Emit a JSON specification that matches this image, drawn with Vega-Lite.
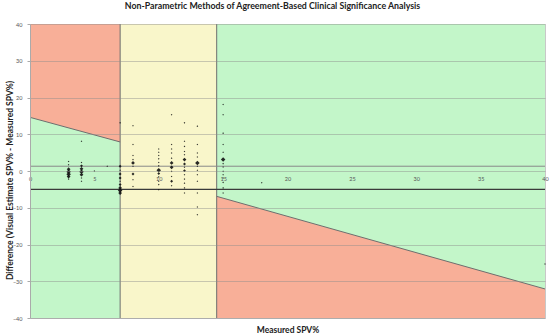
{
  "$schema": "https://vega.github.io/schema/vega-lite/v6.json",
  "width": 515,
  "height": 294,
  "autosize": "none",
  "padding": {"left": 30, "top": 24, "right": 5, "bottom": 18},
  "background": "white",
  "config": {"view": {"stroke": "#c8c8c8"}, "font": "Lato"},
  "title": {"text": "Non-Parametric Methods of Agreement-Based Clinical Significance Analysis", "fontSize": 8.8, "fontWeight": "bold", "font": "Lato", "color": "#222", "anchor": "middle", "offset": 11, "dx": -15},
  "datasets": {
    "rects": [
      {"x": 0, "x2": 40, "y": -40, "y2": 40, "zone": "green"},
      {"x": 7, "x2": 14.5, "y": -40, "y2": 40, "zone": "yellow"}
    ],
    "areas": [
      {"seg": "a", "x": 0, "y": 14.6, "y2": 40},
      {"seg": "a", "x": 7, "y": 7.9, "y2": 40},
      {"seg": "b", "x": 14.5, "y": -40, "y2": -6.9},
      {"seg": "b", "x": 40, "y": -40, "y2": -32.1}
    ],
    "borders": [
      {"x": 7, "y": -40, "y2": 40},
      {"x": 14.5, "y": -40, "y2": 40}
    ],
    "diag": [
      {"seg": "a", "x": 0, "y": 14.6},
      {"seg": "a", "x": 7, "y": 7.9},
      {"seg": "b", "x": 14.5, "y": -6.9},
      {"seg": "b", "x": 40, "y": -32.1}
    ],
    "hlines": [
      {"y": 1.3, "kind": "median"},
      {"y": -5, "kind": "limit"}
    ],
    "points": [
      {"x": 3, "y": 2.6, "n": 1}, {"x": 3, "y": 1.7, "n": 1}, {"x": 3, "y": 0.5, "n": 3}, {"x": 3, "y": -0.2, "n": 4}, {"x": 3, "y": -0.9, "n": 4}, {"x": 3, "y": -1.5, "n": 3}, {"x": 3, "y": -2.2, "n": 1},
      {"x": 4, "y": 8.1, "n": 1}, {"x": 4, "y": 2.3, "n": 1}, {"x": 4, "y": 1.4, "n": 2}, {"x": 4, "y": 0.6, "n": 3}, {"x": 4, "y": -0.2, "n": 4}, {"x": 4, "y": -1.0, "n": 3}, {"x": 4, "y": -1.9, "n": 1}, {"x": 4, "y": -2.8, "n": 1},
      {"x": 5, "y": 0, "n": 1}, {"x": 6, "y": 1.3, "n": 1},
      {"x": 7, "y": 13.1, "n": 1}, {"x": 7, "y": 1.3, "n": 2}, {"x": 7, "y": 0.2, "n": 1}, {"x": 7, "y": -0.8, "n": 2}, {"x": 7, "y": -1.9, "n": 2}, {"x": 7, "y": -2.8, "n": 1}, {"x": 7, "y": -3.7, "n": 2}, {"x": 7, "y": -4.6, "n": 3}, {"x": 7, "y": -5.3, "n": 4}, {"x": 7, "y": -6.0, "n": 3},
      {"x": 8, "y": 12.3, "n": 1}, {"x": 8, "y": 7.2, "n": 1}, {"x": 8, "y": 4.2, "n": 1}, {"x": 8, "y": 3.1, "n": 1}, {"x": 8, "y": 2.2, "n": 3}, {"x": 8, "y": 1.3, "n": 1}, {"x": 8, "y": -0.8, "n": 2}, {"x": 8, "y": -2.4, "n": 1}, {"x": 8, "y": -4.2, "n": 1},
      {"x": 10, "y": 6.0, "n": 1}, {"x": 10, "y": 5.1, "n": 1}, {"x": 10, "y": 4.2, "n": 1}, {"x": 10, "y": 3.3, "n": 1}, {"x": 10, "y": 2.3, "n": 1}, {"x": 10, "y": 1.4, "n": 1}, {"x": 10, "y": 0.2, "n": 4}, {"x": 10, "y": -0.7, "n": 2}, {"x": 10, "y": -1.6, "n": 1}, {"x": 10, "y": -2.8, "n": 1}, {"x": 10, "y": -3.7, "n": 1}, {"x": 10, "y": -5.1, "n": 1},
      {"x": 11, "y": 15.3, "n": 1}, {"x": 11, "y": 7.2, "n": 1}, {"x": 11, "y": 6.0, "n": 1}, {"x": 11, "y": 4.9, "n": 1}, {"x": 11, "y": 3.5, "n": 1}, {"x": 11, "y": 2.2, "n": 3}, {"x": 11, "y": 1.0, "n": 3}, {"x": 11, "y": -0.1, "n": 1}, {"x": 11, "y": -1.5, "n": 1}, {"x": 11, "y": -2.8, "n": 2}, {"x": 11, "y": -4.0, "n": 1},
      {"x": 12, "y": 13.1, "n": 1}, {"x": 12, "y": 8.1, "n": 1}, {"x": 12, "y": 6.7, "n": 1}, {"x": 12, "y": 5.3, "n": 1}, {"x": 12, "y": 4.4, "n": 1}, {"x": 12, "y": 3.1, "n": 3}, {"x": 12, "y": 1.9, "n": 2}, {"x": 12, "y": 1.0, "n": 1}, {"x": 12, "y": 0.1, "n": 2}, {"x": 12, "y": -1.0, "n": 1}, {"x": 12, "y": -2.2, "n": 1}, {"x": 12, "y": -3.3, "n": 1}, {"x": 12, "y": -4.6, "n": 1}, {"x": 12, "y": -6.0, "n": 1},
      {"x": 13, "y": 12.2, "n": 1}, {"x": 13, "y": 7.2, "n": 1}, {"x": 13, "y": 4.9, "n": 1}, {"x": 13, "y": 3.8, "n": 1}, {"x": 13, "y": 2.2, "n": 4}, {"x": 13, "y": 1.3, "n": 1}, {"x": 13, "y": 0.2, "n": 1}, {"x": 13, "y": -1.0, "n": 1}, {"x": 13, "y": -2.8, "n": 1}, {"x": 13, "y": -6.0, "n": 1}, {"x": 13, "y": -9.8, "n": 1}, {"x": 13, "y": -11.9, "n": 1},
      {"x": 15, "y": 18.1, "n": 1}, {"x": 15, "y": 15.3, "n": 1}, {"x": 15, "y": 10.3, "n": 1}, {"x": 15, "y": 7.2, "n": 1}, {"x": 15, "y": 5.1, "n": 1}, {"x": 15, "y": 3.1, "n": 4}, {"x": 15, "y": 2.0, "n": 1}, {"x": 15, "y": 1.1, "n": 1}, {"x": 15, "y": -0.1, "n": 1}, {"x": 15, "y": -1.0, "n": 1}, {"x": 15, "y": -1.9, "n": 1}, {"x": 15, "y": -3.1, "n": 1}, {"x": 15, "y": -4.6, "n": 1}, {"x": 15, "y": -6.0, "n": 1},
      {"x": 18, "y": -3.2, "n": 1}, {"x": 40, "y": -25.3, "n": 1}
    ]
  },
  "encoding": {
    "x": {"type": "quantitative", "scale": {"domain": [0, 40], "nice": false, "zero": false},
      "axis": {"orient": "bottom", "offset": -147, "values": [0, 5, 10, 15, 20, 25, 30, 35, 40], "grid": false, "domain": false, "ticks": false, "labelFontSize": 5.5, "labelColor": "#555", "labelPadding": 5, "labelFlush": false, "labelOverlap": false, "labelFont": "Lato", "title": "Measured SPV%", "titleFontSize": 8.5, "titleFontWeight": "bold", "titleColor": "#222", "titleFont": "Lato", "titleX": 257.5, "titleY": 158, "titleBaseline": "middle", "titleAlign": "center", "zindex": 1}},
    "y": {"type": "quantitative", "scale": {"domain": [-40, 40], "nice": false, "zero": false},
      "axis": {"values": [-40, -30, -20, -10, 0, 10, 20, 30, 40], "tickCount": 9, "grid": true, "gridColor": "#8c8c8c", "gridOpacity": 0.45, "domain": true, "domainColor": "#aaa", "ticks": true, "tickSize": 3, "tickColor": "#aaa", "labelFontSize": 5.5, "labelColor": "#555", "labelPadding": 5, "labelOverlap": false, "labelFlush": false, "labelFont": "Lato", "title": "Difference (Visual Estimate SPV% - Measured SPV%)", "titleFontSize": 8.5, "titleFontWeight": "bold", "titleColor": "#222", "titleFont": "Lato", "titleX": -21, "titleY": 156, "titleBaseline": "middle", "titleAlign": "center", "titleAngle": 270, "zindex": 1}}
  },
  "layer": [
    {
      "data": {"name": "rects"},
      "mark": {"type": "rect"},
      "encoding": {
        "x": {"field": "x"},
        "x2": {"field": "x2"},
        "y": {"field": "y"},
        "y2": {"field": "y2"},
        "color": {"field": "zone", "type": "nominal", "scale": {"domain": ["green", "yellow"], "range": ["#C3F6C9", "#F9F6CA"]}, "legend": null}
      }
    },
    {
      "data": {"name": "areas"},
      "mark": {"type": "area", "color": "#F8AF98", "opacity": 1},
      "encoding": {
        "x": {"field": "x"},
        "y": {"field": "y"},
        "y2": {"field": "y2"},
        "detail": {"field": "seg"}
      }
    },
    {
      "data": {"name": "borders"},
      "mark": {"type": "rule", "color": "#6e6e6e", "strokeWidth": 1},
      "encoding": {
        "x": {"field": "x"},
        "y": {"field": "y"},
        "y2": {"field": "y2"}
      }
    },
    {
      "data": {"name": "diag"},
      "mark": {"type": "line", "color": "#6e6e6e", "strokeWidth": 1},
      "encoding": {
        "x": {"field": "x"},
        "y": {"field": "y"},
        "detail": {"field": "seg"}
      }
    },
    {
      "data": {"name": "hlines"},
      "transform": [{"filter": "datum.kind === 'median'"}],
      "mark": {"type": "rule", "color": "#8a8a8a", "strokeWidth": 1},
      "encoding": {"x": null, "y": {"field": "y"}}
    },
    {
      "data": {"name": "hlines"},
      "transform": [{"filter": "datum.kind === 'limit'"}],
      "mark": {"type": "rule", "color": "#3a3a3a", "strokeWidth": 1.2},
      "encoding": {"x": null, "y": {"field": "y"}}
    },
    {
      "data": {"name": "points"},
      "mark": {"type": "point", "shape": "diamond", "filled": true, "color": "#111", "opacity": 0.9},
      "encoding": {
        "x": {"field": "x"},
        "y": {"field": "y"},
        "size": {"field": "n", "type": "quantitative", "scale": {"domain": [1, 4], "range": [2.5, 20]}, "legend": null}
      }
    }
  ]
}
